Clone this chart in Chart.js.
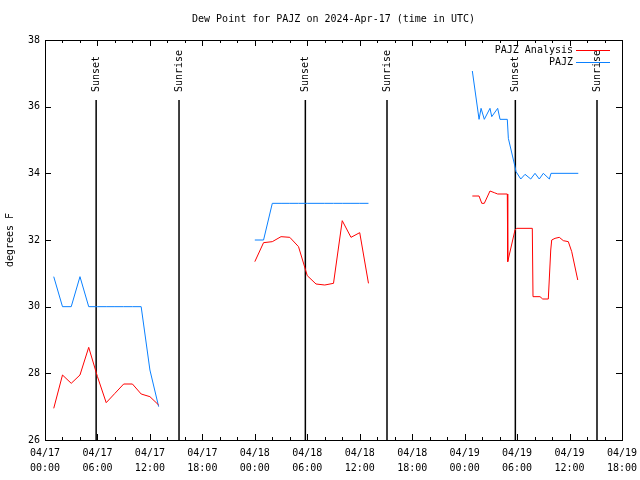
<!DOCTYPE html>
<html>
<head>
<meta charset="utf-8">
<script src="https://cdn.jsdelivr.net/npm/chart.js@4.4.1/dist/chart.umd.min.js"></script>
<style>
html, body { margin:0; padding:0; background:#fff; }
</style>
</head>
<body>
<canvas id="myChart" width="640" height="480"></canvas>
<script>
// hours since 2024-04-17 00:00 UTC
var dateTicks = ["04/17","04/17","04/17","04/17","04/18","04/18","04/18","04/18","04/19","04/19","04/19","04/19"];
var hourTicks = ["00:00","06:00","12:00","18:00","00:00","06:00","12:00","18:00","00:00","06:00","12:00","18:00"];

var analysisHours = [1,2,3,4,5,6,7,8,9,10,11,12,13, 18,
  24,25,26,27,28,29,30,31,32,33,34,35,36,37, 43,
  48.88,49.65,49.96,50.25,50.9,51.39,51.78,52.88,52.93,53.76,53.96,55.74,55.82,56.62,56.93,57.57,57.85,57.96,58.34,58.83,59.29,59.86,60.25,60.94];
var analysisDew = [26.95,27.95,27.7,27.95,28.78,27.9,27.12,27.4,27.68,27.68,27.38,27.3,27.05, null,
  31.35,31.92,31.95,32.1,32.08,31.8,30.93,30.68,30.65,30.7,32.58,32.08,32.22,30.7, null,
  33.32,33.32,33.1,33.1,33.47,33.42,33.38,33.38,31.35,32.3,32.35,32.35,30.3,30.3,30.23,30.23,31.7,32.0,32.05,32.08,31.98,31.95,31.65,30.8];

var pajzHours = [1,2,3,4,5,6,7,8,9,10,11,12,13, 18,
  24,25,26,27,28,29,30,31,32,33,34,35,36,37, 43,
  48.88,49.65,49.88,50.25,50.9,51.1,51.78,52.05,52.88,53.0,53.76,53.88,54.42,54.91,55.56,56.05,56.54,57.0,57.69,57.88,61.0];
var pajzDew = [30.9,30.0,30.0,30.9,30.0,30.0,30.0,30.0,30.0,30.0,30.0,28.1,27.0, null,
  32.0,32.0,33.1,33.1,33.1,33.1,33.1,33.1,33.1,33.1,33.1,33.1,33.1,33.1, null,
  37.07,35.62,35.95,35.62,35.95,35.7,35.95,35.62,35.62,35.05,34.2,34.05,33.83,33.97,33.83,34.0,33.83,34.0,33.83,34.0,34.0];

var sunLabels = ["Sunset","Sunrise","Sunset","Sunrise","Sunset","Sunrise"];
var sunHours = [5.85,15.33,29.78,39.12,53.8,63.14];

function points(xs, ys){
  var out = [];
  for (var i = 0; i < xs.length; i++) out.push({x: xs[i], y: ys[i]});
  return out;
}

var datasets = [
  {label: "PAJZ Analysis", data: points(analysisHours, analysisDew), borderColor: "#ff0000", borderWidth: 1, pointRadius: 0, fill: false, tension: 0},
  {label: "PAJZ", data: points(pajzHours, pajzDew), borderColor: "#0a80ff", borderWidth: 1, pointRadius: 0, fill: false, tension: 0}
];
for (var s = 0; s < sunHours.length; s++) {
  datasets.push({label: sunLabels[s], data: [{x: sunHours[s], y: 26}, {x: sunHours[s], y: 36.2}],
    borderColor: "#000", borderWidth: 1.5, pointRadius: 0, fill: false});
}

var FONT = "10px 'DejaVu Sans Mono', monospace";

var extras = {
  id: "extras",
  afterDraw: function(chart){
    var ctx = chart.ctx, a = chart.chartArea, xs = chart.scales.x, ys = chart.scales.y;
    ctx.save();
    ctx.strokeStyle = "#000";
    ctx.lineWidth = 1;
    ctx.strokeRect(Math.round(a.left) + 0.5, Math.round(a.top) + 0.5, Math.round(a.right - a.left), Math.round(a.bottom - a.top));
    // inward ticks, mirrored
    ctx.beginPath();
    for (var h = 0; h <= 66; h += 2) {
      var px = Math.round(xs.getPixelForValue(h)) + 0.5;
      var len = (h % 6 === 0) ? 6 : 3;
      ctx.moveTo(px, a.bottom); ctx.lineTo(px, a.bottom - len);
      ctx.moveTo(px, a.top); ctx.lineTo(px, a.top + len);
    }
    for (var v = 26; v <= 38; v += 2) {
      var py = Math.round(ys.getPixelForValue(v)) + 0.5;
      ctx.moveTo(a.left, py); ctx.lineTo(a.left + 6, py);
      ctx.moveTo(a.right, py); ctx.lineTo(a.right - 6, py);
    }
    ctx.stroke();

    ctx.fillStyle = "#000";
    ctx.font = FONT;
    // title
    ctx.textAlign = "center";
    ctx.textBaseline = "middle";
    ctx.fillText("Dew Point for PAJZ on 2024-Apr-17 (time in UTC)", (a.left + a.right) / 2, 19);
    // sun labels
    for (var i = 0; i < sunHours.length; i++) {
      var x = xs.getPixelForValue(sunHours[i]);
      var y = ys.getPixelForValue(36.44);
      ctx.save();
      ctx.translate(x, y);
      ctx.rotate(-Math.PI / 2);
      ctx.textAlign = "left";
      ctx.textBaseline = "middle";
      ctx.fillText(sunLabels[i], 0, 0);
      ctx.restore();
    }
    // legend
    ctx.textAlign = "right";
    for (var k = 0; k < 2; k++) {
      var ds = chart.data.datasets[k];
      var ly = 50 + k * 12;
      ctx.fillStyle = "#000";
      ctx.fillText(ds.label, 573, ly);
      ctx.strokeStyle = ds.borderColor;
      ctx.beginPath();
      ctx.moveTo(576, ly + 0.5); ctx.lineTo(610, ly + 0.5);
      ctx.stroke();
    }
    ctx.restore();
  }
};

Chart.defaults.font.family = "'DejaVu Sans Mono', monospace";
Chart.defaults.font.size = 10;
Chart.defaults.color = "#000";

new Chart(document.getElementById("myChart").getContext("2d"), {
  type: "line",
  data: {datasets: datasets},
  options: {
    responsive: false,
    animation: false,
    devicePixelRatio: 1,
    layout: {padding: {top: 40, right: 18, left: 0, bottom: 0}},
    plugins: {legend: {display: false}, title: {display: false}, tooltip: {enabled: false}},
    scales: {
      x: {
        type: "linear", min: 0, max: 66,
        grid: {display: false, drawTicks: false}, border: {display: false},
        ticks: {stepSize: 6, autoSkip: false, maxRotation: 0, padding: 6,
          font: {size: 10, lineHeight: 1.5},
          callback: function(v){ var i = Math.round(v / 6); return [dateTicks[i], hourTicks[i]]; }},
        afterFit: function(scale){ scale.height = 40; scale.paddingLeft = 0; scale.paddingRight = 0; }
      },
      y: {
        min: 26, max: 38,
        grid: {display: false, drawTicks: false}, border: {display: false},
        ticks: {stepSize: 2, padding: 5},
        title: {display: true, text: "degrees F", padding: {top: 4, bottom: 0}},
        afterFit: function(scale){ scale.width = 45; }
      }
    }
  },
  plugins: [extras]
});
</script>
</body>
</html>
